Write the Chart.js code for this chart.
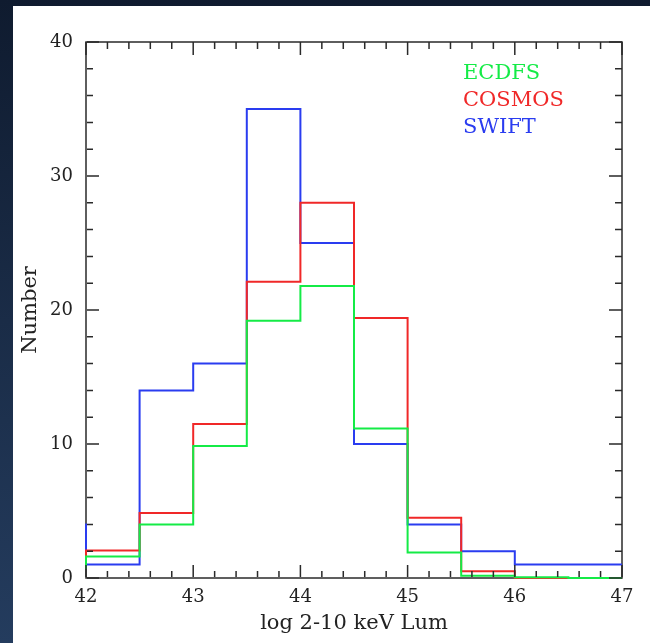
<!DOCTYPE html>
<html>
<head>
<meta charset="utf-8">
<script src="https://cdn.jsdelivr.net/npm/chart.js@4.4.1/dist/chart.umd.min.js"></script>
<style>
  html, body { margin: 0; padding: 0; }
  body { width: 650px; height: 643px; overflow: hidden;
         background: linear-gradient(to bottom, #0f1b2f 0%, #1a2c47 50%, #243c5e 100%); position: relative; }
  #panel { position: absolute; left: 13px; top: 6px; width: 637px; height: 637px; background: #ffffff; }
  canvas { display: block; }
</style>
</head>
<body>
<div id="panel"><canvas id="c" width="637" height="637"></canvas></div>
<script>
// Bin edges (first bin 41.5-42 lies left of the visible axis and is clipped)
const binEdges = [41.5, 42, 42.5, 43, 43.5, 44, 44.5, 45, 45.5, 46, 46.5, 47];
// Counts per bin (41.5-42, 42-42.5, ..., 46.5-47)
const ecdfsCounts  = [0.75, 1.6, 4.0, 9.85, 19.2, 21.8, 11.15, 1.9, 0.17, 0.05, 0];
const cosmosCounts = [1.7, 2.05, 4.85, 11.5, 22.1, 28.0, 19.4, 4.5, 0.5, 0, 0];
const swiftCounts  = [4, 1, 14, 16, 35, 25, 10, 4, 2, 1, 1];
const seriesNames  = ['ECDFS', 'COSMOS', 'SWIFT'];
const seriesColors = ['#14eb46', '#f02828', '#2a3cf0'];
const xTitle = 'log 2-10 keV Lum';
const yTitle = 'Number';

function toSteps(vals) {
  return binEdges.map((e, i) => ({ x: e, y: vals[Math.min(i, vals.length - 1)] }));
}

const serif = 'DejaVu Serif';

const frameTicks = {
  id: 'frameTicks',
  afterDatasetsDraw(chart) {
    const { ctx, chartArea: a, scales } = chart;
    ctx.save();
    ctx.strokeStyle = '#2a2a2a';
    ctx.lineWidth = 1.5;
    const xs = scales.x;
    xs.ticks.forEach((t, i) => {
      const px = xs.getPixelForTick(i);
      const major = Math.abs(t.value - Math.round(t.value)) < 1e-6;
      const len = major ? 13 : 7;
      ctx.beginPath();
      ctx.moveTo(px, a.bottom - 1); ctx.lineTo(px, a.bottom - len);
      ctx.moveTo(px, a.top); ctx.lineTo(px, a.top + len);
      ctx.stroke();
    });
    const ys = scales.y;
    ys.ticks.forEach((t, i) => {
      const py = ys.getPixelForTick(i);
      const major = Math.round(t.value) % 10 === 0;
      const len = major ? 13 : 7;
      ctx.beginPath();
      ctx.moveTo(a.left + 1, py); ctx.lineTo(a.left + len, py);
      ctx.moveTo(a.right, py); ctx.lineTo(a.right - len, py);
      ctx.stroke();
    });
    ctx.restore();
  },
  beforeDatasetsDraw(chart) {
    const { ctx, chartArea: a } = chart;
    ctx.save();
    ctx.strokeStyle = '#2a2a2a';
    ctx.lineWidth = 1.5;
    ctx.strokeRect(a.left, a.top, a.right - a.left, a.bottom - a.top);
    ctx.restore();
  }
};

const legendText = {
  id: 'legendText',
  afterDraw(chart) {
    const { ctx, chartArea: a } = chart;
    ctx.save();
    ctx.font = '21px "' + serif + '"';
    ctx.textAlign = 'left';
    ctx.textBaseline = 'middle';
    seriesNames.forEach((n, i) => {
      ctx.fillStyle = seriesColors[i];
      ctx.fillText(n, a.right - 159, a.top + 32 + i * 27);
    });
    ctx.restore();
  }
};

const seriesData = [ecdfsCounts, cosmosCounts, swiftCounts];

new Chart(document.getElementById('c'), {
  type: 'line',
  data: {
    datasets: seriesNames.map((n, i) => ({
      label: n,
      data: toSteps(seriesData[i]),
      borderColor: seriesColors[i],
      backgroundColor: seriesColors[i],
      borderWidth: 2,
      pointRadius: 0,
      stepped: 'before',
      fill: false,
      clip: { left: 1, right: 1, top: 1, bottom: 1 }
    }))
  },
  options: {
    responsive: false,
    animation: false,
    devicePixelRatio: 1,
    layout: { padding: { top: 36, right: 28, left: 0, bottom: 0 } },
    plugins: { legend: { display: false }, tooltip: { enabled: false } },
    scales: {
      x: {
        type: 'linear', min: 42, max: 47,
        grid: { display: false, drawTicks: false },
        border: { display: false },
        ticks: {
          stepSize: 0.2, autoSkip: false, maxRotation: 0, padding: 9,
          color: '#222', font: { family: serif, size: 18 },
          callback: v => Math.abs(v - Math.round(v)) < 1e-6 ? String(Math.round(v)) : ''
        },
        title: { display: true, text: xTitle, color: '#222',
                 font: { family: serif, size: 21 }, padding: { top: 0, bottom: 7 } },
        afterFit: s => { s.height = 65; }
      },
      y: {
        type: 'linear', min: 0, max: 40,
        grid: { display: false, drawTicks: false },
        border: { display: false },
        ticks: {
          stepSize: 2, autoSkip: false, padding: 13,
          color: '#222', font: { family: serif, size: 18 },
          callback: v => (Math.round(v) % 10 === 0) ? String(Math.round(v)) : ''
        },
        title: { display: true, text: yTitle, color: '#222',
                 font: { family: serif, size: 21 }, padding: { top: 5, bottom: 0 } },
        afterFit: s => { s.width = 73; }
      }
    }
  },
  plugins: [frameTicks, legendText]
});
</script>
</body>
</html>
